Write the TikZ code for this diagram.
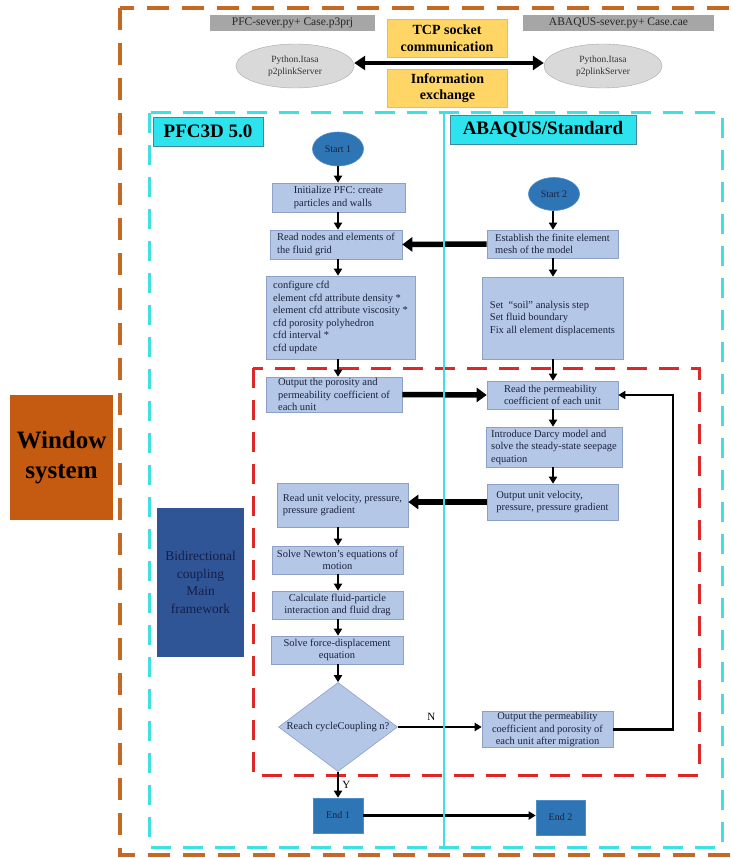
\documentclass[tikz,border=0pt]{standalone}
\usepackage{fontspec}
\setmainfont{Liberation Serif}
\usetikzlibrary{arrows.meta,shapes.geometric,positioning,calc}
\definecolor{procfill}{RGB}{180,199,231}
\definecolor{procline}{RGB}{140,160,200}
\definecolor{proctext}{RGB}{28,34,60}
\definecolor{termfill}{RGB}{46,117,182}
\definecolor{termline}{RGB}{80,140,200}
\definecolor{servfill}{RGB}{217,217,217}
\definecolor{filefill}{RGB}{166,166,166}
\definecolor{goldfill}{RGB}{255,214,102}
\definecolor{goldline}{RGB}{225,190,110}
\definecolor{labfill}{RGB}{45,228,238}
\definecolor{winfill}{RGB}{197,90,17}
\definecolor{winorange}{RGB}{196,104,36}
\definecolor{bidfill}{RGB}{47,85,151}
\definecolor{bidtext}{RGB}{22,30,70}
\definecolor{frcyan}{RGB}{64,224,224}
\definecolor{frred}{RGB}{222,40,40}
\begin{document}
\begin{tikzpicture}[x=1pt,y=-1pt,
  proc/.style={draw=procline, fill=procfill, line width=0.6pt, align=left,
    inner xsep=4pt, inner ysep=1pt, text=proctext,
    font=\fontsize{10.5}{12.5}\selectfont},
  procc/.style={proc, align=center},
  term/.style={draw=termline, fill=termfill, text=proctext, line width=0.6pt,
    inner sep=0pt, font=\fontsize{10}{12}\selectfont},
  server/.style={ellipse, draw=gray!70, fill=servfill, minimum width=118,
    minimum height=44, inner sep=0pt, align=center, text=black!80,
    font=\fontsize{9.5}{11.5}\selectfont},
  filebox/.style={fill=filefill, minimum height=16, inner sep=0pt,
    text=black!85, font=\fontsize{11.5}{13}\selectfont},
  goldbox/.style={draw=goldline, fill=goldfill, minimum width=120,
    minimum height=38, inner sep=0pt, align=center,
    font=\fontsize{14}{16.5}\selectfont\bfseries},
  swlabel/.style={draw=cyan!60!black, fill=labfill, line width=0.5pt,
    minimum height=29, inner sep=0pt, font=\fontsize{19}{22}\selectfont\bfseries},
  thin/.style={-{Triangle[length=7pt,width=8pt]}, line width=2.1pt},
  fat/.style={-{Triangle[length=10pt,width=14pt]}, line width=5.5pt},
  frame/.style={line width=3pt, dash pattern=on 20pt off 12pt}]
\useasboundingbox (0,0) rectangle (730,858);

\draw[frame, draw=winorange, line width=3.5pt, dash pattern=on 22pt off 13pt] (120,8) rectangle (750,855);
\draw[frame, draw=frcyan] (149,113) rectangle (722,847);
\draw[frame, draw=frred] (253,368) rectangle (699,775);

\node[filebox, minimum width=165] (pfcfile) at (292.5,23) {PFC-sever.py+ Case.p3prj};
\node[filebox, minimum width=191] (abqfile) at (618.5,23) {ABAQUS-sever.py+ Case.cae};
\node[goldbox] (tcp) at (447,38) {TCP socket\\communication};
\node[goldbox] (info) at (447.5,88) {Information\\exchange};
\node[server] (srv1) at (295,66) {Python.Itasa\\p2plinkServer};
\node[server] (srv2) at (603,66) {Python.Itasa\\p2plinkServer};
\draw[fat, {Triangle[length=11pt,width=14pt]}-{Triangle[length=11pt,width=14pt]}, line width=4.5pt]
  ([yshift=3pt]srv1.east) -- ([yshift=3pt]srv2.west);

\node[swlabel, minimum width=110] (pfclab) at (208,131.5) {PFC3D 5.0};
\node[swlabel, minimum width=186] (abqlab) at (543,129.5) {ABAQUS/Standard};

\node[fill=winfill, minimum width=103, minimum height=125, align=center,
  font=\fontsize{25}{30}\selectfont\bfseries] (win) at (61.5,457.5) {Window\\system};
\node[fill=bidfill, text=bidtext, minimum width=87, minimum height=149, align=center,
  font=\fontsize{13.5}{17.7}\selectfont] (bidir) at (200.5,582.5) {Bidirectional\\coupling\\Main\\framework};

\node[term, ellipse, minimum width=51, minimum height=34] (start1) at (338,149) {Start 1};
\node[term, ellipse, minimum width=51, minimum height=33] (start2) at (554,194) {Start 2};

\node[proc, minimum width=133, minimum height=29] (init) at (338.5,197.5) {Initialize PFC: create\\particles and walls};
\node[proc, minimum width=132, minimum height=29] (readgrid) at (336,244.5) {Read nodes and elements of\\the fluid grid};
\node[proc, minimum width=149, minimum height=83] (cfdcfg) at (340.5,317.5) {configure cfd\\element cfd attribute density *\\element cfd attribute viscosity *\\cfd porosity polyhedron\\cfd interval *\\cfd update};
\node[proc, minimum width=131, minimum height=28] (mesh) at (552.5,244) {Establish the finite element\\mesh of the model};
\node[proc, minimum width=141, minimum height=82] (soilstep) at (552.5,318) {Set\enspace“soil” analysis step\\Set fluid boundary\\Fix all element displacements};
\node[proc, minimum width=136, minimum height=35] (outpor) at (334,394.5) {Output the porosity and\\permeability coefficient of\\each unit};
\node[proc, minimum width=131, minimum height=28] (readperm) at (552.5,395) {Read the permeability\\coefficient of each unit};
\node[proc, minimum width=136, minimum height=40] (darcy) at (554,447) {Introduce Darcy model and\\solve the steady-state seepage\\equation};
\node[proc, minimum width=131, minimum height=36] (outvel) at (552.5,502) {Output unit velocity,\\pressure, pressure gradient};
\node[proc, minimum width=131, minimum height=44] (readvel) at (342.5,505) {Read unit velocity, pressure,\\pressure gradient};
\node[procc, minimum width=131, minimum height=28] (newton) at (337.5,560) {Solve Newton’s equations of\\motion};
\node[procc, minimum width=131, minimum height=28] (drag) at (337.5,605) {Calculate fluid-particle\\interaction and fluid drag};
\node[procc, minimum width=132, minimum height=28] (forcedisp) at (337,650) {Solve force-displacement\\equation};
\node[proc, diamond, aspect=1.34, align=center, minimum width=119, minimum height=89, inner sep=0pt] (cycle) at (338,727) {Reach cycleCoupling n?};
\node[procc, minimum width=131, minimum height=35] (outmig) at (547.5,729.5) {Output the permeability\\coefficient and porosity of\\each unit after migration};
\node[term, minimum width=50, minimum height=35] (end1) at (338,815.5) {End 1};
\node[term, minimum width=49, minimum height=35] (end2) at (560.5,817.5) {End 2};

\coordinate (lc) at (338,0);
\coordinate (rc) at (553,0);
\coordinate (fb) at (673,0);

\draw[thin] (start1.south -| lc) -- (init.north -| lc);
\draw[thin] (init.south -| lc) -- (readgrid.north -| lc);
\draw[thin] (readgrid.south -| lc) -- (cfdcfg.north -| lc);
\draw[thin] (cfdcfg.south -| lc) -- (outpor.north -| lc);
\draw[thin] (readvel.south -| lc) -- (newton.north -| lc);
\draw[thin] (newton.south -| lc) -- (drag.north -| lc);
\draw[thin] (drag.south -| lc) -- (forcedisp.north -| lc);
\draw[thin] (forcedisp.south -| lc) -- (cycle.north);
\draw[thin] (cycle.south) -- (end1.north) node[midway, right, font=\fontsize{11}{13}\selectfont] {Y};
\draw[thin] (cycle.east) -- (cycle.east -| outmig.west) node[pos=0.4, above=2pt, font=\fontsize{11}{13}\selectfont] {N};
\draw[thin] (end1.east) -- (end1.east -| end2.west);

\draw[thin] (start2.south -| rc) -- (mesh.north -| rc);
\draw[thin] (mesh.south -| rc) -- (soilstep.north -| rc);
\draw[thin] (soilstep.south -| rc) -- (readperm.north -| rc);
\draw[thin] (readperm.south -| rc) -- (darcy.north -| rc);
\draw[thin] (darcy.south -| rc) -- (outvel.north -| rc);
\draw[thin] (outmig.east) -- (outmig.east -| fb) -- (fb |- readperm.east) -- (readperm.east);

\draw[fat] (mesh.west) -- (readgrid.east);
\draw[fat] (outpor.east) -- (readperm.west);
\draw[fat] (outvel.west) -- (outvel.west -| readvel.east);

\draw[frcyan, line width=2pt] (444,113) -- (444,847);
\end{tikzpicture}
\end{document}
